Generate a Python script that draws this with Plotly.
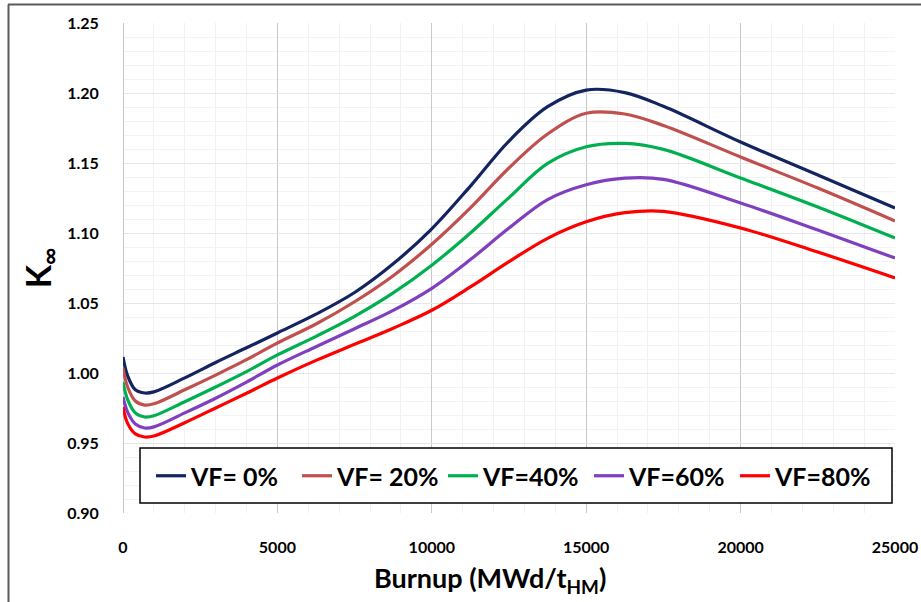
import plotly.graph_objects as go

burnup = [0, 150, 400, 700, 1000, 2000, 3000, 4000, 5000, 6250, 7500, 8750, 10000,
          11250, 12500, 13750, 15000, 16250, 17500, 20000, 22500, 25000]

vf0 = [1.0114, 0.998, 0.988, 0.9857, 0.9865, 0.9965, 1.0075, 1.018, 1.0286, 1.042, 1.0575,
       1.078, 1.103, 1.1335, 1.1657, 1.1902, 1.2021, 1.2003, 1.1905,
       1.165, 1.1414, 1.1179]
vf20 = [1.0036, 0.990, 0.980, 0.9771, 0.978, 0.988, 0.9985, 1.0095, 1.0214, 1.035, 1.0509,
        1.0695, 1.092, 1.118, 1.1465, 1.1707, 1.1855, 1.185, 1.1768,
        1.1543, 1.1321, 1.1086]
vf40 = [0.9936, 0.981, 0.9715, 0.9686, 0.9695, 0.9795, 0.990, 1.001, 1.0129, 1.0262, 1.0405,
        1.0572, 1.077, 1.100, 1.1253, 1.1497, 1.1616, 1.164, 1.1597,
        1.1393, 1.1186, 1.0964]
vf60 = [0.9829, 0.972, 0.9635, 0.9607, 0.9615, 0.9715, 0.982, 0.9935, 1.0057, 1.0188, 1.0316,
        1.0447, 1.0605, 1.081, 1.1035, 1.1239, 1.1345, 1.1392, 1.1383,
        1.1214, 1.1021, 1.0821]
vf80 = [0.9757, 0.964, 0.9565, 0.9543, 0.955, 0.9645, 0.975, 0.9855, 0.9964, 1.009, 1.0205,
        1.032, 1.0448, 1.0615, 1.0795, 1.0962, 1.108, 1.1145, 1.1155,
        1.1036, 1.0864, 1.0679]

series_names = ["VF= 0%", "VF= 20%", "VF=40%", "VF=60%", "VF=80%"]
series_values = [vf0, vf20, vf40, vf60, vf80]
series_colors = ["#13245E", "#C0504D", "#00B050", "#7F3FBF", "#FF0000"]

x_ticks = [0, 5000, 10000, 15000, 20000, 25000]
y_ticks = [0.90, 0.95, 1.00, 1.05, 1.10, 1.15, 1.20, 1.25]

FONT = "Lato"

fig = go.Figure()
for name, vals, col in zip(series_names, series_values, series_colors):
    fig.add_trace(go.Scatter(
        x=burnup, y=vals, name=name, mode="lines",
        line=dict(color=col, width=3.2, shape="spline", smoothing=1.0),
    ))

W, H = 921, 602
L, R, T, B = 123, 26, 23, 89
pw, ph = W - L - R, H - T - B

def px_to_paper_x(px):
    return (px - L) / pw

def px_to_paper_y(py):
    return (H - B - py) / ph

fig.update_layout(
    width=W, height=H,
    margin=dict(l=L, r=R, t=T, b=B, autoexpand=False),
    paper_bgcolor="white", plot_bgcolor="white",
    font=dict(family=FONT, color="black"),
    showlegend=True,
    legend=dict(
        orientation="h",
        x=px_to_paper_x(151), y=px_to_paper_y(476),
        xanchor="left", yanchor="middle",
        bgcolor="rgba(0,0,0,0)", borderwidth=0,
        font=dict(family=FONT, size=25, color="black", weight="bold"),
        entrywidth=101, entrywidthmode="pixels",
        itemwidth=30, tracegroupgap=0,
    ),
    xaxis=dict(
        range=[0, 25000], tickvals=x_ticks, ticktext=[str(v) for v in x_ticks],
        showgrid=True, gridcolor="#C8C8C8", gridwidth=1,
        minor=dict(dtick=1000, showgrid=True, gridcolor="#F1F1F1", gridwidth=1),
        zeroline=True, zerolinecolor="#C8C8C8", zerolinewidth=1, showline=False,
        ticks="outside", ticklen=20, tickcolor="rgba(0,0,0,0)",
        tickfont=dict(family=FONT, size=16, color="black", weight="bold"),
    ),
    yaxis=dict(
        range=[0.90, 1.25], tickvals=y_ticks, ticktext=["%.2f" % v for v in y_ticks],
        showgrid=True, gridcolor="#E6E6E6", gridwidth=1,
        minor=dict(dtick=0.01, showgrid=True, gridcolor="#F3F3F3", gridwidth=1),
        zeroline=False, showline=False,
        ticks="outside", ticklen=20, tickcolor="rgba(0,0,0,0)",
        tickfont=dict(family=FONT, size=16, color="black", weight="bold"),
        title=dict(text="K<sub>∞</sub>", standoff=5,
                   font=dict(family=FONT, size=34, color="black", weight="bold")),
    ),
)

# x-axis title (placed as in the reference, slightly left of centre)
fig.add_annotation(
    text="Burnup (MWd/t<sub>HM</sub>)", xref="paper", yref="paper",
    x=px_to_paper_x(490), y=px_to_paper_y(579), xanchor="center", yanchor="middle",
    showarrow=False, font=dict(family=FONT, size=27, color="black", weight="bold"),
)

# legend box
fig.add_shape(type="rect", xref="paper", yref="paper", layer="above",
              x0=px_to_paper_x(140), x1=px_to_paper_x(892),
              y0=px_to_paper_y(503), y1=px_to_paper_y(448),
              fillcolor="white", line=dict(color="black", width=1.5))

# outer frame (left and top edges visible in the reference)
fig.add_shape(type="line", xref="paper", yref="paper",
              x0=px_to_paper_x(8.5), x1=px_to_paper_x(8.5),
              y0=px_to_paper_y(4.5), y1=px_to_paper_y(602),
              line=dict(color="#5A5A5A", width=2))
fig.add_shape(type="line", xref="paper", yref="paper",
              x0=px_to_paper_x(8), x1=px_to_paper_x(921),
              y0=px_to_paper_y(4.5), y1=px_to_paper_y(4.5),
              line=dict(color="#5A5A5A", width=2))

fig.write_html("out.html")
